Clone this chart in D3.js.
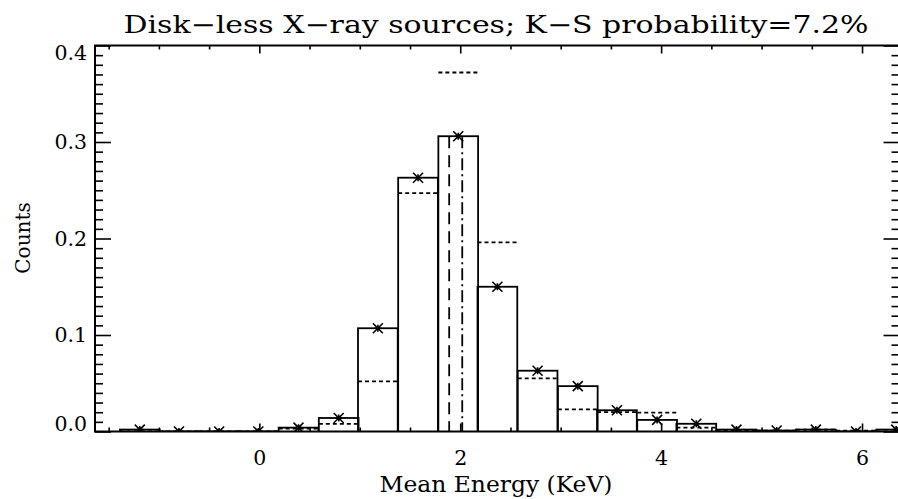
<!DOCTYPE html>
<html>
<head>
<meta charset="utf-8">
<script src="https://d3js.org/d3.v7.min.js"></script>
<style>
body { margin: 0; background: #fff; }
svg text { font-family: "DejaVu Serif", serif; fill: #000; }
.axis path { display: none; }
.axis line { stroke: #000; stroke-width: 1.6; }
</style>
</head>
<body>
<svg width="898" height="499"></svg>
<script>
// histogram bin centres (KeV)
var binCenters = [-1.19, -0.80, -0.40, -0.01, 0.39, 0.79, 1.18, 1.58, 1.98, 2.37,
                  2.77, 3.17, 3.56, 3.96, 4.35, 4.75, 5.15, 5.54, 5.94, 6.34];
var binWidth = 0.3957;
// disk-less X-ray sources: solid boxes and asterisks
var disklessCounts = [0.002, 0, 0, 0, 0.004, 0.014, 0.107, 0.263, 0.306, 0.150,
                      0.063, 0.047, 0.022, 0.012, 0.008, 0.002, 0.001, 0.002, 0, 0.002];
// comparison sample: dotted steps
var otherCounts = [0, 0, 0, 0, 0.003, 0.008, 0.052, 0.247, 0.372, 0.196,
                   0.055, 0.023, 0.020, 0.0195, 0.004, 0.001, 0.001, 0.002, 0.001, 0];
// mean energies (dashed / dash-dot verticals)
var meanLines = [1.89, 2.02];
var meanStyles = ["12,7", "12,4,2,4"];

var xMajorTicks = [0, 2, 4, 6];
var xMinorTicks = [-1.5, -1, -0.5, 0.5, 1, 1.5, 2.5, 3, 3.5, 4.5, 5, 5.5];
var yMajorTicks = [0, 0.1, 0.2, 0.3, 0.4];
var yMinorTicks = d3.range(1, 40).filter(function(i) { return i % 10 != 0; })
    .map(function(i) { return i / 100; });

var titleText = "Disk\u2212less X\u2212ray sources; K\u2212S probability=7.2%";

var svg = d3.select("svg"),
    frame = {left: 95, right: 899.5, top: 45.5, bottom: 431.5};

var x = d3.scaleLinear().domain([-1.636, 6.373]).range([frame.left, frame.right]),
    y = d3.scaleLinear().domain([0, 0.4]).range([frame.bottom, frame.top]);

svg.append("clipPath").attr("id", "plotclip")
  .append("rect")
    .attr("x", frame.left).attr("y", frame.top)
    .attr("width", frame.right - frame.left)
    .attr("height", frame.bottom - frame.top);

var plot = svg.append("g").attr("clip-path", "url(#plotclip)");

// solid boxes
plot.selectAll(".bar")
    .data(disklessCounts)
  .enter().append("rect")
    .attr("class", "bar")
    .attr("x", function(d, i) { return x(binCenters[i] - binWidth / 2); })
    .attr("width", function(d, i) { return x(binCenters[i] + binWidth / 2) - x(binCenters[i] - binWidth / 2); })
    .attr("y", function(d) { return y(d); })
    .attr("height", function(d) { return y(0) - y(d) + 4; })
    .attr("fill", "none")
    .attr("stroke", "#000")
    .attr("stroke-width", 1.8);

// dotted steps (horizontal only)
plot.selectAll(".step")
    .data(otherCounts)
  .enter().append("line")
    .attr("class", "step")
    .attr("x1", function(d, i) { return x(binCenters[i] - binWidth / 2); })
    .attr("x2", function(d, i) { return x(binCenters[i] + binWidth / 2); })
    .attr("y1", function(d) { return y(d); })
    .attr("y2", function(d) { return y(d); })
    .attr("stroke", "#000")
    .attr("stroke-width", 1.8)
    .attr("stroke-dasharray", "4,3");

// mean lines
var topVal = d3.max(disklessCounts);
plot.selectAll(".mean")
    .data(meanLines)
  .enter().append("line")
    .attr("class", "mean")
    .attr("x1", function(d) { return x(d); })
    .attr("x2", function(d) { return x(d); })
    .attr("y1", y(topVal))
    .attr("y2", y(0))
    .attr("stroke", "#000")
    .attr("stroke-width", 1.8)
    .attr("stroke-dasharray", function(d, i) { return meanStyles[i]; });

// asterisks
function star(cx, cy) {
  var a = 5, b = 3.5;
  return "M" + (cx - a) + "," + (cy - a) + "L" + (cx + a) + "," + (cy + a) +
         "M" + (cx - a) + "," + (cy + a) + "L" + (cx + a) + "," + (cy - a) +
         "M" + (cx - b) + "," + cy + "L" + (cx + b) + "," + cy +
         "M" + cx + "," + (cy - b) + "L" + cx + "," + (cy + b);
}
plot.selectAll(".star")
    .data(disklessCounts)
  .enter().append("path")
    .attr("class", "star")
    .attr("d", function(d, i) { return star(x(binCenters[i]), y(d)); })
    .attr("stroke", "#000")
    .attr("stroke-width", 1.6)
    .attr("fill", "none");

// axes: ticks on all four sides, pointing inwards
function addAxis(axis, tx, ty) {
  return svg.append("g").attr("class", "axis")
      .attr("transform", "translate(" + tx + "," + ty + ")")
      .call(axis);
}
var xBottom = addAxis(d3.axisBottom(x).tickValues(xMajorTicks).tickSize(-8).tickPadding(19)
    .tickFormat(d3.format("d")), 0, frame.bottom);
addAxis(d3.axisBottom(x).tickValues(xMinorTicks).tickSize(-4).tickFormat(""), 0, frame.bottom);
addAxis(d3.axisTop(x).tickValues(xMajorTicks).tickSize(-8).tickFormat(""), 0, frame.top);
addAxis(d3.axisTop(x).tickValues(xMinorTicks).tickSize(-4).tickFormat(""), 0, frame.top);

var yLeft = addAxis(d3.axisLeft(y).tickValues(yMajorTicks).tickSize(-16).tickPadding(8)
    .tickFormat(d3.format(".1f")), frame.left, 0);
addAxis(d3.axisLeft(y).tickValues(yMinorTicks).tickSize(-8).tickFormat(""), frame.left, 0);
addAxis(d3.axisRight(y).tickValues(yMajorTicks).tickSize(-16).tickFormat(""), frame.right, 0);
addAxis(d3.axisRight(y).tickValues(yMinorTicks).tickSize(-8).tickFormat(""), frame.right, 0);

svg.selectAll(".axis text")
    .attr("font-size", 20.5)
    .attr("font-family", "DejaVu Serif");
// end labels kept inside the frame
yLeft.selectAll("text")
    .attr("y", function(d) { return d == 0.4 ? 7.5 : (d == 0 ? -7.5 : 0); });

// frame
svg.append("rect")
    .attr("x", frame.left).attr("y", frame.top)
    .attr("width", frame.right - frame.left)
    .attr("height", frame.bottom - frame.top)
    .attr("fill", "none")
    .attr("stroke", "#000")
    .attr("stroke-width", 2);

// titles
svg.append("text")
    .attr("x", 496).attr("y", 33)
    .attr("text-anchor", "middle")
    .attr("font-size", 24)
    .attr("textLength", 745)
    .attr("lengthAdjust", "spacingAndGlyphs")
    .text(titleText);

svg.append("text")
    .attr("x", 496).attr("y", 492)
    .attr("text-anchor", "middle")
    .attr("font-size", 21.5)
    .attr("textLength", 233)
    .attr("lengthAdjust", "spacingAndGlyphs")
    .text("Mean Energy (KeV)");

svg.append("text")
    .attr("transform", "translate(30,238) rotate(-90)")
    .attr("text-anchor", "middle")
    .attr("font-size", 20)
    .text("Counts");
</script>
</body>
</html>
